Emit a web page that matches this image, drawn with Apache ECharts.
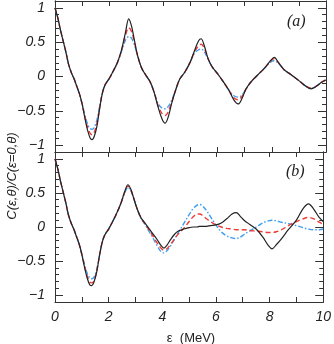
<!DOCTYPE html>
<html>
<head>
<meta charset="utf-8">
<script src="https://cdn.jsdelivr.net/npm/echarts@6/dist/echarts.min.js"></script>
<style>
  html, body { margin: 0; padding: 0; background: #fff; }
  #chart { width: 334px; height: 344px; }
</style>
</head>
<body>
<div id="chart"></div>
<script>
// energy grid (MeV), shared by all curves
var energy = [0, 0.1, 0.2, 0.3, 0.4, 0.5, 0.6, 0.7, 0.8, 0.9, 1.0, 1.1, 1.2, 1.3, 1.37, 1.45, 1.55, 1.65, 1.75, 1.85,
  2.0, 2.15, 2.3, 2.45, 2.6, 2.72, 2.82, 2.92, 3.05, 3.2, 3.35, 3.5, 3.65, 3.8, 3.95, 4.06, 4.17, 4.3, 4.45, 4.6,
  4.8, 5.0, 5.15, 5.3, 5.39, 5.5, 5.65, 5.8, 6.0, 6.2, 6.4, 6.6, 6.76, 6.9, 7.05, 7.25, 7.5, 7.75, 7.95, 8.09,
  8.25, 8.45, 8.7, 9.0, 9.25, 9.45, 9.65, 9.85, 10];

// panel (a)
var blackA = [1.00, 0.86, 0.68, 0.52, 0.36, 0.18, 0.06, -0.03, -0.14, -0.25, -0.40, -0.60, -0.78, -0.90, -0.92, -0.87, -0.72, -0.46, -0.24, -0.12,
  -0.03, 0.08, 0.20, 0.38, 0.64, 0.84, 0.74, 0.55, 0.30, 0.12, 0.02, -0.07, -0.22, -0.44, -0.62, -0.68, -0.60, -0.40, -0.20, -0.04,
  0.07, 0.22, 0.38, 0.52, 0.55, 0.46, 0.26, 0.14, 0.04, -0.07, -0.19, -0.34, -0.40, -0.32, -0.18, -0.07, 0.03, 0.13, 0.23, 0.28,
  0.20, 0.10, 0.03, -0.06, -0.14, -0.18, -0.14, -0.08, -0.05];
var redA = [1.00, 0.86, 0.68, 0.52, 0.36, 0.18, 0.06, -0.03, -0.14, -0.25, -0.40, -0.58, -0.74, -0.83, -0.85, -0.81, -0.68, -0.45, -0.24, -0.12,
  -0.03, 0.08, 0.20, 0.37, 0.60, 0.71, 0.66, 0.52, 0.30, 0.12, 0.02, -0.07, -0.22, -0.42, -0.54, -0.57, -0.52, -0.38, -0.20, -0.04,
  0.07, 0.22, 0.36, 0.45, 0.47, 0.42, 0.26, 0.14, 0.04, -0.07, -0.19, -0.31, -0.34, -0.29, -0.18, -0.07, 0.03, 0.13, 0.22, 0.26,
  0.20, 0.10, 0.03, -0.06, -0.14, -0.17, -0.14, -0.08, -0.05];
var blueA = [1.00, 0.86, 0.68, 0.52, 0.36, 0.18, 0.06, -0.03, -0.14, -0.25, -0.40, -0.56, -0.69, -0.76, -0.77, -0.74, -0.63, -0.43, -0.24, -0.12,
  -0.03, 0.08, 0.20, 0.36, 0.53, 0.58, 0.56, 0.47, 0.30, 0.12, 0.02, -0.07, -0.22, -0.39, -0.46, -0.47, -0.44, -0.35, -0.20, -0.04,
  0.07, 0.22, 0.34, 0.39, 0.40, 0.37, 0.25, 0.14, 0.04, -0.07, -0.19, -0.28, -0.30, -0.27, -0.18, -0.07, 0.03, 0.13, 0.21, 0.23,
  0.19, 0.10, 0.03, -0.06, -0.14, -0.17, -0.14, -0.08, -0.05];

// panel (b)
var blackB = [1.00, 0.86, 0.68, 0.52, 0.36, 0.18, 0.06, -0.03, -0.14, -0.25, -0.40, -0.59, -0.75, -0.85, -0.86, -0.81, -0.67, -0.44, -0.24, -0.12,
  -0.03, 0.08, 0.20, 0.34, 0.52, 0.62, 0.56, 0.44, 0.28, 0.14, 0.06, -0.02, -0.10, -0.18, -0.27, -0.31, -0.27, -0.19, -0.11, -0.06,
  -0.03, -0.01, 0.00, 0.00, 0.01, 0.01, 0.01, 0.02, 0.03, 0.06, 0.12, 0.19, 0.21, 0.16, 0.10, 0.04, -0.03, -0.15, -0.27, -0.32,
  -0.26, -0.17, -0.04, 0.10, 0.27, 0.34, 0.26, 0.14, 0.08];
var redB = [1.00, 0.86, 0.68, 0.52, 0.36, 0.18, 0.06, -0.03, -0.14, -0.25, -0.40, -0.57, -0.72, -0.81, -0.82, -0.79, -0.66, -0.44, -0.24, -0.12,
  -0.03, 0.08, 0.20, 0.34, 0.51, 0.60, 0.55, 0.44, 0.28, 0.14, 0.05, -0.04, -0.13, -0.23, -0.31, -0.34, -0.32, -0.26, -0.18, -0.10,
  -0.02, 0.08, 0.15, 0.19, 0.19, 0.17, 0.12, 0.08, 0.03, 0.00, -0.02, -0.03, -0.04, -0.04, -0.04, -0.05, -0.06, -0.07, -0.08, -0.08,
  -0.07, -0.04, 0.02, 0.08, 0.12, 0.14, 0.12, 0.07, 0.04];
var blueB = [1.00, 0.86, 0.68, 0.52, 0.36, 0.18, 0.06, -0.03, -0.14, -0.25, -0.40, -0.55, -0.68, -0.75, -0.76, -0.74, -0.63, -0.43, -0.24, -0.12,
  -0.03, 0.08, 0.20, 0.34, 0.50, 0.58, 0.54, 0.44, 0.28, 0.13, 0.04, -0.06, -0.16, -0.27, -0.36, -0.38, -0.35, -0.28, -0.18, -0.08,
  0.05, 0.18, 0.27, 0.32, 0.33, 0.31, 0.24, 0.15, 0.03, -0.07, -0.13, -0.16, -0.17, -0.15, -0.11, -0.06, 0.00, 0.06, 0.09, 0.10,
  0.09, 0.07, 0.05, 0.02, -0.01, -0.03, -0.04, -0.04, -0.03];

var yLabels = [-1, -0.5, 0, 0.5, 1];
var xLabels = [0, 2, 4, 6, 8, 10];

var chart = echarts.init(document.getElementById('chart'));

var minorY = [];
for (var k = -10; k <= 10; k++) {
    if (k % 5 !== 0) minorY.push(k / 10);
}

function pairs(ys) {
    return energy.map(function (e, i) { return [e, ys[i]]; });
}

var labelFont = {
    fontFamily: 'Liberation Sans',
    fontStyle: 'italic',
    fontSize: 14,
    color: '#222'
};

function xAxisFor(gridIndex, pos, showLabels) {
    return {
        type: 'value', gridIndex: gridIndex, position: pos,
        min: 0, max: 10, interval: 1,
        axisLine: { show: true, onZero: false, lineStyle: { color: '#333', width: 1 } },
        axisTick: { show: true, inside: true, length: 5, lineStyle: { color: '#333' } },
        axisLabel: showLabels ? Object.assign({ show: true, customValues: xLabels, margin: 8 }, labelFont) : { show: false },
        splitLine: { show: false }
    };
}

function yAxisFor(gridIndex, pos, ticks, len, showLabels) {
    return {
        type: 'value', gridIndex: gridIndex, position: pos,
        min: -1.1, max: 1.1,
        axisLine: { show: true, onZero: false, lineStyle: { color: '#333', width: 1 } },
        axisTick: { show: true, inside: true, length: len, customValues: ticks, lineStyle: { color: '#333' } },
        axisLabel: showLabels ? Object.assign({ show: true, customValues: yLabels, margin: 10,
            formatter: function (v) { return String(v).replace('-', '\u2212'); } }, labelFont) : { show: false },
        splitLine: { show: false }
    };
}

function line(xi, yi, ys, color, type, width, z) {
    return {
        type: 'line', xAxisIndex: xi, yAxisIndex: yi, data: pairs(ys),
        showSymbol: false, smooth: 0.35, z: z, silent: true,
        lineStyle: { color: color, type: type, width: width }
    };
}

var blueDash = [5, 2, 1.5, 2];
var redDash = [5, 3];

chart.setOption({
    animation: false,
    grid: [
        { left: 55, right: 8, top: 1, height: 151 },
        { left: 55, right: 8, top: 152, height: 150 }
    ],
    xAxis: [
        xAxisFor(0, 'bottom', false),
        xAxisFor(0, 'top', false),
        xAxisFor(1, 'bottom', true),
        xAxisFor(1, 'top', false)
    ],
    yAxis: [
        yAxisFor(0, 'left', yLabels, 8, true),
        yAxisFor(0, 'left', minorY, 4, false),
        yAxisFor(0, 'right', yLabels, 8, false),
        yAxisFor(0, 'right', minorY, 4, false),
        yAxisFor(1, 'left', yLabels, 8, true),
        yAxisFor(1, 'left', minorY, 4, false),
        yAxisFor(1, 'right', yLabels, 8, false),
        yAxisFor(1, 'right', minorY, 4, false)
    ],
    series: [
        line(0, 0, blueA, '#3b9cf2', blueDash, 1.4, 2),
        line(0, 0, redA, '#ee3b36', redDash, 1.4, 3),
        line(0, 0, blackA, '#222222', 'solid', 1.2, 4),
        line(2, 4, blueB, '#3b9cf2', blueDash, 1.4, 2),
        line(2, 4, redB, '#ee3b36', redDash, 1.4, 3),
        line(2, 4, blackB, '#222222', 'solid', 1.2, 4)
    ],
    graphic: [
        { type: 'text', left: 287, top: 14, style: { text: '(a)', font: 'italic 16px "Liberation Serif"', fill: '#222' } },
        { type: 'text', left: 286, top: 164, style: { text: '(b)', font: 'italic 16px "Liberation Serif"', fill: '#222' } },
        { type: 'text', x: 12, y: 176, rotation: Math.PI / 2,
          style: { text: 'C(\u03b5,\u03b8)/C(\u03b5=0,\u03b8)', font: 'italic 13px "Liberation Sans"', fill: '#222',
                   align: 'center', verticalAlign: 'middle' } },
        { type: 'text', x: 191, y: 338,
          style: { text: '\u03b5  (MeV)', font: '13px "Liberation Sans"', fill: '#222',
                   align: 'center', verticalAlign: 'middle' } }
    ]
});
</script>
</body>
</html>
